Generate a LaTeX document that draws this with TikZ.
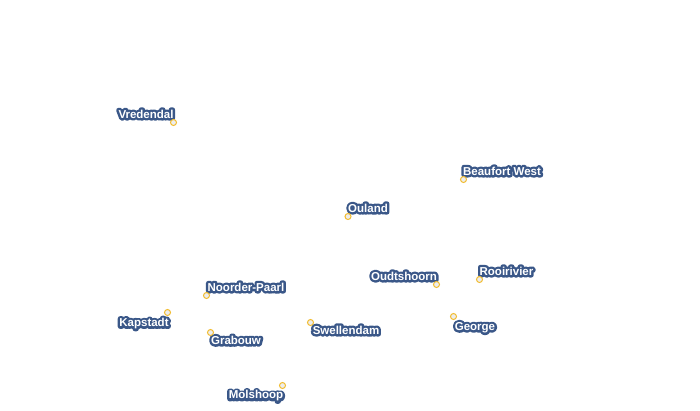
\documentclass[tikz,border=0pt]{standalone}
\usepackage{fontspec}
\setmainfont{Liberation Sans}
\newfontfamily\halofont[BoldFont={Liberation Sans Bold},BoldFeatures={FakeBold=42}]{Liberation Sans}
\definecolor{halo}{HTML}{3A5788}
\definecolor{ring}{HTML}{F2BC2E}
\definecolor{dot}{HTML}{EDEDED}
\tikzset{
  place/.style={circle,draw=ring,fill=dot,line width=1pt,inner sep=0pt,minimum size=6pt},
  town/.style={inner sep=0pt,font=\fontsize{11.5}{12}\selectfont\bfseries,text=white,line join=round}
}
\newcommand*{\tn}[1]{\special{pdf:code 1 j}\rlap{\textcolor{halo}{\halofont\bfseries #1}}#1}

\begin{document}
\begin{tikzpicture}[x=1pt,y=-1pt]
\useasboundingbox (0,0) rectangle (700,410);
\foreach \name/\mx/\my/\lx/\ly/\txt in {
  vredendal/173.5/122.5/146/114/Vredendal,
  beaufort/463.5/179.5/502/171/Beaufort West,
  ouland/348/216.5/368/208/Ouland,
  oudtshoorn/436.5/284.5/404/276/Oudtshoorn,
  rooirivier/479.5/279.5/506.5/271/Rooirivier,
  george/453.5/316.5/475/327.5/George,
  swellendam/310.5/322.5/346/330/Swellendam,
  grabouw/210.5/332.5/236/340.2/Grabouw,
  paarl/206.5/295.5/246/287/Noorder-Paarl,
  kapstadt/167.5/312.5/144/323.5/Kapstadt,
  molshoop/282.5/385.5/256/396/Molshoop}
{
  \node[town] (t-\name) at (\lx,\ly) {\tn{\txt}};
  \node[place] (p-\name) at (\mx,\my) {};
}
\end{tikzpicture}
\end{document}
